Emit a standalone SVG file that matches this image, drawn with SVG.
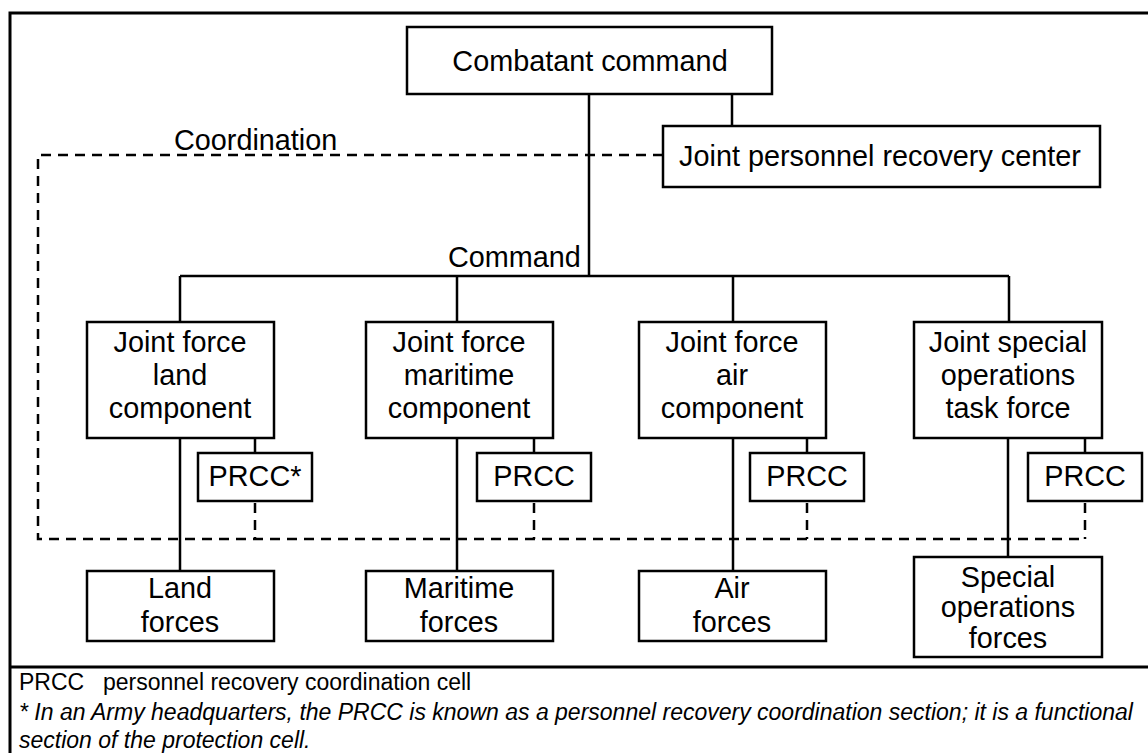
<svg xmlns="http://www.w3.org/2000/svg" width="1148" height="753" viewBox="0 0 1148 753">
<style>
.box{fill:#fff;stroke:#000;stroke-width:2.5}
.ln{fill:none;stroke:#000;stroke-width:2.5}
.dash{fill:none;stroke:#000;stroke-width:2.5;stroke-dasharray:10 7}
.frame{fill:none;stroke:#000;stroke-width:3}
text{font-family:"Liberation Sans",Arial,sans-serif;fill:#000}
.t{font-size:28.8px;text-anchor:middle}
.lbl{font-size:28.8px}
.leg{font-size:23px}
.it{font-size:23px;font-style:italic}
</style>
<rect width="1148" height="753" fill="#fff"/>
<g id="frame">
<path class="frame" d="M10,753 V13 H1148 M10,667 H1148"/>
</g>
<g id="connectors">
<path class="ln" d="M589,94 V276 M732,94 V126 M180,276 H1009 M180,276 V322 M457,276 V322 M733,276 V322 M1009,276 V322"/>
<path class="ln" d="M180,438 V571 M457,438 V571 M733,438 V571 M1008,438 V557"/>
<path class="ln" d="M255,438 V453 M534,438 V453 M807,438 V453 M1085,438 V453"/>
<path class="dash" d="M663,155 H38 V539 H1085"/>
<path class="dash" d="M255,503 V539 M534,503 V539 M807,503 V539 M1085,503 V539"/>
</g>
<text class="lbl" x="174" y="150">Coordination</text>
<text class="lbl" x="448" y="267">Command</text>
<g id="combatant">
<rect class="box" x="407" y="27" width="365" height="67"/>
<text class="t" x="590" y="71">Combatant command</text>
</g>
<g id="jprc">
<rect class="box" x="663" y="126" width="437" height="61"/>
<text class="t" x="880" y="166">Joint personnel recovery center</text>
</g>
<g id="jflcc">
<rect class="box" x="87" y="322" width="187" height="116"/>
<text class="t" x="180" y="352">Joint force</text>
<text class="t" x="180" y="385">land</text>
<text class="t" x="180" y="418">component</text>
</g>
<g id="jfmcc">
<rect class="box" x="366" y="322" width="187" height="116"/>
<text class="t" x="459" y="352">Joint force</text>
<text class="t" x="459" y="385">maritime</text>
<text class="t" x="459" y="418">component</text>
</g>
<g id="jfacc">
<rect class="box" x="639" y="322" width="187" height="116"/>
<text class="t" x="732" y="352">Joint force</text>
<text class="t" x="732" y="385">air</text>
<text class="t" x="732" y="418">component</text>
</g>
<g id="jsotf">
<rect class="box" x="914" y="322" width="188" height="116"/>
<text class="t" x="1008" y="352">Joint special</text>
<text class="t" x="1008" y="385">operations</text>
<text class="t" x="1008" y="418">task force</text>
</g>
<g id="prcc-land">
<rect class="box" x="198" y="453" width="114" height="48"/>
<text class="t" x="255" y="486">PRCC*</text>
</g>
<g id="prcc-maritime">
<rect class="box" x="477" y="453" width="114" height="48"/>
<text class="t" x="534" y="486">PRCC</text>
</g>
<g id="prcc-air">
<rect class="box" x="750" y="453" width="114" height="48"/>
<text class="t" x="807" y="486">PRCC</text>
</g>
<g id="prcc-sof">
<rect class="box" x="1028" y="453" width="114" height="48"/>
<text class="t" x="1085" y="486">PRCC</text>
</g>
<g id="land-forces">
<rect class="box" x="87" y="571" width="187" height="70"/>
<text class="t" x="180" y="598">Land</text>
<text class="t" x="180" y="632">forces</text>
</g>
<g id="maritime-forces">
<rect class="box" x="366" y="571" width="187" height="70"/>
<text class="t" x="459" y="598">Maritime</text>
<text class="t" x="459" y="632">forces</text>
</g>
<g id="air-forces">
<rect class="box" x="639" y="571" width="187" height="70"/>
<text class="t" x="732" y="598">Air</text>
<text class="t" x="732" y="632">forces</text>
</g>
<g id="sof-forces">
<rect class="box" x="914" y="557" width="188" height="100"/>
<text class="t" x="1008" y="587">Special</text>
<text class="t" x="1008" y="617">operations</text>
<text class="t" x="1008" y="648">forces</text>
</g>
<g id="legend">
<text class="leg" x="19" y="690">PRCC</text>
<text class="leg" x="103" y="690">personnel recovery coordination cell</text>
<text class="it" x="19" y="720">* In an Army headquarters, the PRCC is known as a personnel recovery coordination section; it is a functional</text>
<text class="it" x="19" y="748">section of the protection cell.</text>
</g>
</svg>
